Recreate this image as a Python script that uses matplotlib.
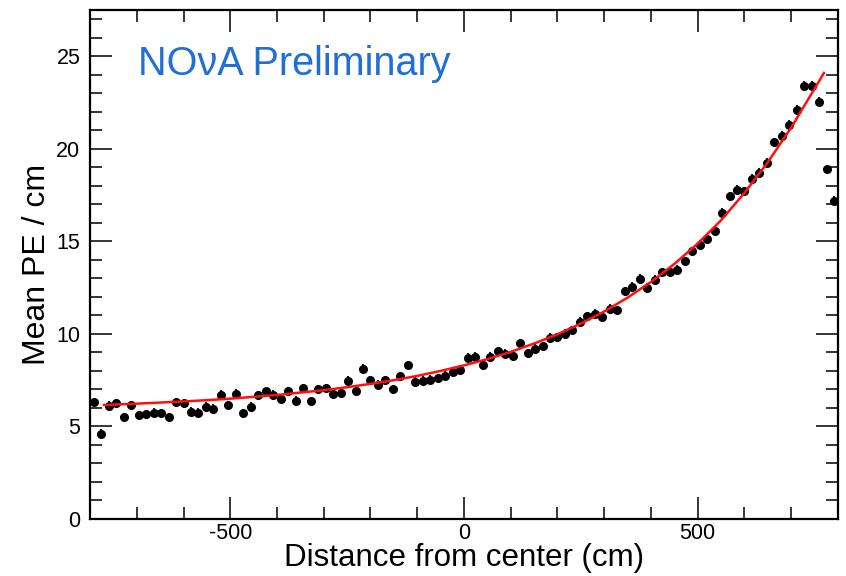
import numpy as np
import matplotlib.pyplot as plt
from matplotlib.ticker import MultipleLocator

plt.rcParams['font.family'] = ['Liberation Sans', 'DejaVu Sans']
plt.rcParams['axes.unicode_minus'] = False

# 100 bins of 16 cm across the cell, centres from -792 to 792
distance = np.arange(-792, 800, 16)
mean_pe = [
    6.3, 4.6, 6.1, 6.25, 5.5, 6.15, 5.6, 5.65, 5.75, 5.7,
    5.5, 6.3, 6.25, 5.8, 5.75, 6.05, 5.95, 6.7, 6.15, 6.75,
    5.7, 6.05, 6.68, 6.9, 6.7, 6.5, 6.9, 6.4, 7.05, 6.35,
    7.0, 7.05, 6.75, 6.8, 7.45, 6.9, 8.1, 7.5, 7.25, 7.5,
    7.0, 7.7, 8.3, 7.4, 7.48, 7.52, 7.6, 7.75, 7.92, 8.05,
    8.7, 8.75, 8.3, 8.75, 9.05, 8.93, 8.78, 9.5, 8.96, 9.2,
    9.33, 9.78, 9.82, 10.0, 10.2, 10.65, 10.95, 11.08, 10.92, 11.35,
    11.27, 12.3, 12.54, 12.97, 12.48, 12.93, 13.33, 13.33, 13.47, 13.93,
    14.47, 14.83, 15.13, 15.58, 16.54, 17.44, 17.8, 17.71, 18.38, 18.7,
    19.24, 20.35, 20.7, 21.3, 22.1, 23.4, 23.4, 22.55, 18.9, 17.2,
]
pe_err = 0.25
bin_half = 8

# fitted attenuation curve
fit_x = [-770, -750, -700, -650, -600, -550, -500, -450, -400, -350,
         -300, -250, -200, -150, -100, -50, 0, 50, 100, 150,
         200, 250, 300, 350, 400, 450, 500, 550, 600, 650,
         700, 750, 770]
fit_y = [6.16, 6.18, 6.23, 6.29, 6.35, 6.42, 6.50, 6.60, 6.70, 6.83,
         6.96, 7.12, 7.30, 7.50, 7.73, 8.00, 8.30, 8.64, 9.03, 9.48,
         9.98, 10.56, 11.21, 11.96, 12.81, 13.78, 14.88, 16.14, 17.62, 19.28,
         21.15, 23.25, 24.1]

fig = plt.figure(figsize=(8.46, 5.76), dpi=100)
ax = fig.add_axes([0.1064, 0.099, 0.8841, 0.8836])

ax.errorbar(distance, mean_pe, xerr=bin_half, yerr=pe_err, fmt='o',
            color='black', markersize=5.5, elinewidth=1.3, capsize=0, zorder=3)
ax.plot(fit_x, fit_y, color='#ff1010', linewidth=1.8, zorder=4)

ax.set_xlim(-800, 800)
ax.set_ylim(0, 27.5)
ax.xaxis.set_major_locator(MultipleLocator(500))
ax.xaxis.set_minor_locator(MultipleLocator(100))
ax.yaxis.set_major_locator(MultipleLocator(5))
ax.yaxis.set_minor_locator(MultipleLocator(1))
ax.tick_params(which='both', direction='in', top=True, right=True,
               labelsize=15.5, width=1.1)
ax.tick_params(which='major', length=16)
ax.tick_params(which='minor', length=8.5)
ax.tick_params(axis='x', pad=3)
ax.tick_params(axis='y', pad=7)
for s in ax.spines.values():
    s.set_linewidth(1.6)

ax.set_xlabel('Distance from center (cm)', fontsize=22.5, labelpad=-1)
ax.set_ylabel('Mean PE / cm', fontsize=23, labelpad=3)

ax.text(0.064, 0.893, 'NO\u03bdA Preliminary', transform=ax.transAxes,
        fontsize=28.5, color='#1f6fd6', va='center', ha='left')

fig.savefig('out.png', dpi=100)
